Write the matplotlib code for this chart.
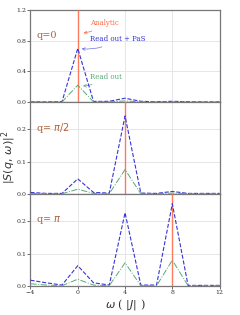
import matplotlib
matplotlib.use("Agg")
import matplotlib.pyplot as plt

plt.rcParams.update({
    "font.family": "serif",
    "font.serif": ["DejaVu Serif"],
    "mathtext.fontset": "dejavusans",
})

# frequency grid (|J| units)
omega = [-4.0, -2.667, -1.333, 0.0, 1.333, 2.667, 4.0, 5.333, 6.667, 8.0, 9.333, 10.667, 12.0]

# q = 0
pas_q0 = [0.003, 0.002, 0.005, 0.70, 0.008, 0.01, 0.05, 0.01, 0.004, 0.01, 0.004, 0.002, 0.002]
raw_q0 = [0.0, 0.0, 0.002, 0.22, 0.003, 0.003, 0.015, 0.003, 0.001, 0.003, 0.001, 0.0, 0.0]
# q = pi/2
pas_q1 = [0.005, 0.002, 0.002, 0.047, 0.005, 0.003, 0.242, 0.003, 0.002, 0.008, 0.002, 0.002, 0.002]
raw_q1 = [0.002, 0.001, 0.001, 0.015, 0.002, 0.001, 0.076, 0.001, 0.001, 0.003, 0.001, 0.001, 0.001]
# q = pi
pas_q2 = [0.018, 0.01, 0.003, 0.063, 0.01, 0.003, 0.227, 0.003, 0.003, 0.255, 0.002, 0.002, 0.002]
raw_q2 = [0.007, 0.003, 0.001, 0.021, 0.003, 0.001, 0.072, 0.001, 0.001, 0.080, 0.001, 0.001, 0.001]

analytic_w = [0.0, 4.0, 8.0]
q_labels = ["q=0", r"q= $\pi/2$", r"q= $\pi$"]
ylims = [1.2, 0.285, 0.285]
yticks = [[0.0, 0.4, 0.8, 1.2], [0.0, 0.1, 0.2], [0.0, 0.1, 0.2]]
xticks = [-4, 0, 4, 8, 12]

C_AN = "#ff6a45"
C_PAS = "#3535d8"
C_RAW = "#5aa87a"

fig, axes = plt.subplots(3, 1, figsize=(2.4, 3.15), dpi=100, sharex=True)
fig.subplots_adjust(left=0.127, right=0.915, top=0.968, bottom=0.092, hspace=0)

series = [(pas_q0, raw_q0), (pas_q1, raw_q1), (pas_q2, raw_q2)]
for i, ax in enumerate(axes):
    pas, raw = series[i]
    ax.axvline(analytic_w[i], color=C_AN, lw=1.0, alpha=0.85, zorder=3)
    ax.plot(omega, pas, ls="--", color=C_PAS, lw=0.8, zorder=4)
    ax.plot(omega, raw, ls="-.", color=C_RAW, lw=0.7, zorder=4)
    ax.set_xlim(-4, 12)
    ax.set_ylim(0, ylims[i])
    ax.set_yticks(yticks[i])
    ax.set_yticklabels([f"{t:.1f}" for t in yticks[i]])
    ax.set_xticks(xticks)
    ax.grid(True, color="#e6e6e6", lw=0.7)
    ax.set_axisbelow(True)
    for sp in ax.spines.values():
        sp.set_color("#777777")
        sp.set_linewidth(0.9)
    ax.tick_params(labelsize=4.5, length=2, width=0.6, color="#555555",
                   labelcolor="#333333", pad=1)
    ax.text(-3.5, ylims[i] * 0.72, q_labels[i], color="#b0603a", fontsize=7,
            va="center", ha="left")

ax0 = axes[0]
ax0.annotate("Analytic", xy=(0.25, 0.9), xytext=(1.0, 1.03), color=C_AN,
             fontsize=5, va="center",
             arrowprops=dict(arrowstyle="->", color=C_AN, lw=0.5,
                             connectionstyle="arc3,rad=-0.2"))
ax0.annotate("Read out + PaS", xy=(0.1, 0.70), xytext=(1.0, 0.82), color=C_PAS,
             fontsize=5, va="center",
             arrowprops=dict(arrowstyle="->", color=C_PAS, lw=0.5, alpha=0.7,
                             connectionstyle="arc3,rad=-0.2"))
ax0.annotate("Read out", xy=(0.2, 0.21), xytext=(1.0, 0.33), color=C_RAW,
             fontsize=5, va="center",
             arrowprops=dict(arrowstyle="->", color=C_RAW, lw=0.5,
                             connectionstyle="arc3,rad=-0.2"))

axes[2].set_xlabel(r"$\omega$ ( $|J|$ )", fontsize=8, labelpad=1, color="#333333")
fig.text(0.035, 0.5, r"$|S(q,\,\omega)|^2$", rotation=90, fontsize=8,
         va="center", ha="center", color="#333333")

fig.savefig("out.png", dpi=100)
